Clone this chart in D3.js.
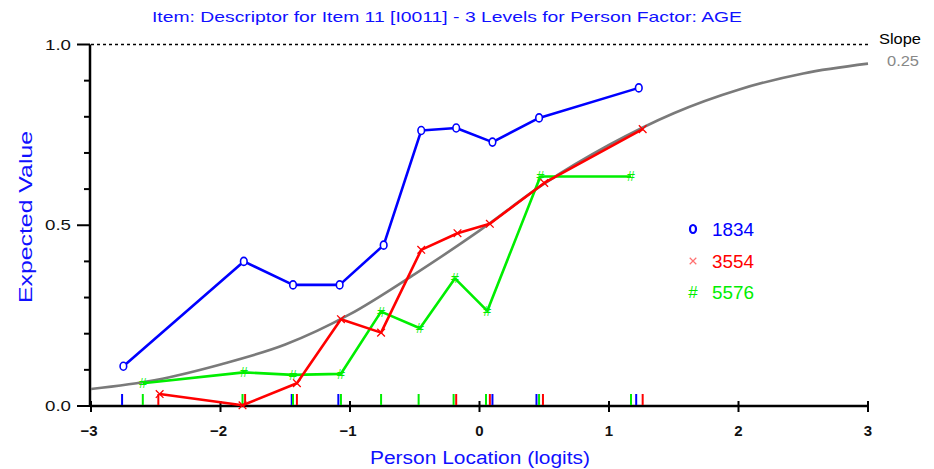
<!DOCTYPE html>
<html><head><meta charset="utf-8">
<script src="https://cdn.jsdelivr.net/npm/d3@7"></script>
<style>body{margin:0;background:#fff}svg{display:block}text{font-family:Arial,"Liberation Sans",sans-serif}</style>
</head><body><svg id="c" width="934" height="469"></svg>
<script>
const titleText = "Item: Descriptor for Item 11 [I0011] - 3 Levels for Person Factor: AGE";
const xTicks = [-3, -2, -1, 0, 1, 2, 3];
const yTicks = [0.0, 0.5, 1.0];
const yMinorTicks = [0.1, 0.2, 0.3, 0.4, 0.6, 0.7, 0.8, 0.9];
const seriesNames = ["1834", "3554", "5576"];
const seriesColors = ["#0000ff", "#ff0000", "#00ee00"];
const blueX = [-2.75, -1.82, -1.44, -1.08, -0.74, -0.45, -0.18, 0.10, 0.46, 1.23];
const blueY = [0.11, 0.40, 0.335, 0.335, 0.445, 0.762, 0.769, 0.73, 0.797, 0.88];
const redX = [-2.47, -1.83, -1.41, -1.07, -0.76, -0.45, -0.17, 0.08, 0.50, 1.26];
const redY = [0.033, 0.002, 0.063, 0.24, 0.203, 0.432, 0.478, 0.504, 0.617, 0.766];
const greenX = [-2.60, -1.82, -1.44, -1.07, -0.76, -0.46, -0.19, 0.06, 0.47, 1.17];
const greenY = [0.063, 0.093, 0.086, 0.089, 0.261, 0.215, 0.353, 0.263, 0.635, 0.635];
const blueRug = [-2.76, -1.45, -1.09, 0.10, 0.44, 1.21];
const greenRug = [-2.60, -1.83, -1.44, -1.07, -0.76, -0.47, -0.20, 0.05, 0.46, 1.17];
const redRug = [-2.48, -1.81, -1.41, -0.18, 0.08, 0.49, 1.26];
const curveX = [-3, -2.5, -2, -1.5, -1, -0.5, 0, 0.5, 1, 1.5, 2, 2.5, 3];
const curveY = [0.047, 0.072, 0.115, 0.17, 0.254, 0.365, 0.485, 0.615, 0.722, 0.81, 0.875, 0.92, 0.947];
const slopeLabel = "Slope";
const slopeValue = "0.25";

const svg = d3.select("#c");
const x = d3.scaleLinear().domain([-3, 3]).range([91, 868]);
const y = d3.scaleLinear().domain([0, 1]).range([406, 44.5]);
const blue = "#1010ff";

// title
svg.append("text").attr("x", 447).attr("y", 22).attr("text-anchor", "middle")
  .attr("fill", blue).attr("font-size", 15).attr("textLength", 590).attr("lengthAdjust", "spacingAndGlyphs")
  .text(titleText);

// dashed top line
svg.append("line").attr("x1", x(-3)).attr("x2", x(3)).attr("y1", y(1)).attr("y2", y(1))
  .attr("stroke", "#000").attr("stroke-width", 1.5).attr("stroke-dasharray", "3,3");

// slope labels
svg.append("text").attr("x", 879).attr("y", 44).attr("font-size", 14).attr("fill", "#000")
  .attr("textLength", 42).attr("lengthAdjust", "spacingAndGlyphs").text(slopeLabel);
svg.append("text").attr("x", 887).attr("y", 66).attr("font-size", 14).attr("fill", "#888")
  .attr("textLength", 32).attr("lengthAdjust", "spacingAndGlyphs").text(slopeValue);

// y axis
const yAxis = svg.append("g");
yAxis.append("line").attr("x1", 90).attr("x2", 90).attr("y1", y(1)).attr("y2", y(0)+1)
  .attr("stroke", "#000").attr("stroke-width", 2.5);
yAxis.selectAll(".ymaj").data(yTicks).join("line").attr("class", "ymaj")
  .attr("x1", 77).attr("x2", 90).attr("y1", d => y(d)).attr("y2", d => y(d))
  .attr("stroke", "#000").attr("stroke-width", 2);
yAxis.selectAll(".ymin").data(yMinorTicks).join("line").attr("class", "ymin")
  .attr("x1", 84).attr("x2", 90).attr("y1", d => y(d)).attr("y2", d => y(d))
  .attr("stroke", "#000").attr("stroke-width", 2);
yAxis.selectAll(".ylab").data(yTicks).join("text").attr("class", "ylab")
  .attr("x", 71).attr("y", d => y(d) + 5).attr("text-anchor", "end")
  .attr("font-size", 15).attr("fill", "#111")
  .attr("textLength", 26).attr("lengthAdjust", "spacingAndGlyphs")
  .text(d => d3.format(".1f")(d));

// x axis
const xAxis = svg.append("g");
xAxis.append("line").attr("x1", x(-3)).attr("x2", x(3)+1).attr("y1", y(0)).attr("y2", y(0))
  .attr("stroke", "#000").attr("stroke-width", 2.5);
xAxis.selectAll(".xt").data(xTicks).join("line").attr("class", "xt")
  .attr("x1", d => x(d)).attr("x2", d => x(d)).attr("y1", 401).attr("y2", 412)
  .attr("stroke", "#000").attr("stroke-width", 2);
xAxis.selectAll(".xl").data(xTicks).join("text").attr("class", "xl")
  .attr("x", d => x(d) + (d < 0 ? -2 : 0)).attr("y", 436).attr("text-anchor", "middle")
  .attr("font-size", 15).attr("fill", "#111").attr("font-weight", "bold")
  .text(d => d3.format("d")(d));

// axis titles
svg.append("text").attr("transform", "translate(32,217) rotate(-90)").attr("text-anchor", "middle")
  .attr("font-size", 19).attr("fill", blue).attr("textLength", 172).attr("lengthAdjust", "spacingAndGlyphs")
  .text("Expected Value");
svg.append("text").attr("x", 480).attr("y", 464).attr("text-anchor", "middle")
  .attr("font-size", 18).attr("fill", blue).attr("textLength", 220).attr("lengthAdjust", "spacingAndGlyphs")
  .text("Person Location (logits)");

// model curve
const curveData = curveX.map((v, i) => ({x: v, y: curveY[i]}));
svg.append("path").datum(curveData)
  .attr("d", d3.line().x(d => x(d.x)).y(d => y(d.y)).curve(d3.curveMonotoneX))
  .attr("fill", "none").attr("stroke", "#7a7a7a").attr("stroke-width", 2.6);

const series = [
  {name: seriesNames[0], color: seriesColors[0], data: blueX.map((v, i) => ({x: v, y: blueY[i]})), mark: "o", rug: blueRug},
  {name: seriesNames[1], color: seriesColors[1], data: redX.map((v, i) => ({x: v, y: redY[i]})), mark: "x", rug: redRug},
  {name: seriesNames[2], color: seriesColors[2], data: greenX.map((v, i) => ({x: v, y: greenY[i]})), mark: "#", rug: greenRug}
];

// rug ticks
[0, 2, 1].forEach(si => {
  const s = series[si];
  svg.append("g").selectAll("line").data(s.rug).join("line")
    .attr("x1", d => x(d)).attr("x2", d => x(d)).attr("y1", 394).attr("y2", 405)
    .attr("stroke", s.color).attr("stroke-width", 2);
});

const line = d3.line().x(d => x(d.x)).y(d => y(d.y));
function drawMarks(g, s, data) {
  if (s.mark === "o") {
    g.selectAll(".mk").data(data).join("ellipse").attr("class", "mk")
      .attr("cx", d => x(d.x)).attr("cy", d => y(d.y)).attr("rx", 3.3).attr("ry", 4)
      .attr("fill", "#fff").attr("stroke", s.color).attr("stroke-width", 1.6);
  } else if (s.mark === "x") {
    g.selectAll(".mk").data(data).join("path").attr("class", "mk")
      .attr("d", d3.symbol().type(d3.symbolTimes || d3.symbolX).size(40))
      .attr("transform", d => `translate(${x(d.x)},${y(d.y)})`)
      .attr("fill", "none").attr("stroke", s.color).attr("stroke-width", 1.3);
  } else {
    g.selectAll(".mk").data(data).join("text").attr("class", "mk")
      .attr("x", d => x(d.x)).attr("y", d => y(d.y) + 5).attr("text-anchor", "middle")
      .attr("font-size", 14).attr("fill", s.color).text("#");
  }
}

[2, 1, 0].forEach(si => {
  const s = series[si];
  const g = svg.append("g");
  g.append("path").attr("class", "ln").datum(s.data).attr("d", line)
    .attr("fill", "none").attr("stroke", s.color).attr("stroke-width", 2.6).attr("stroke-linejoin", "round");
  drawMarks(g, s, s.data);
});

// legend
const legendY = [229, 261, 292];
series.forEach((s, i) => {
  const g = svg.append("g");
  if (s.mark === "o") {
    g.append("ellipse").attr("cx", 693).attr("cy", legendY[i]).attr("rx", 3).attr("ry", 4)
      .attr("fill", "none").attr("stroke", s.color).attr("stroke-width", 2.2);
  } else if (s.mark === "x") {
    g.append("path").attr("d", d3.symbol().type(d3.symbolTimes || d3.symbolX).size(30))
      .attr("transform", `translate(693,${legendY[i]})`).attr("fill", "none")
      .attr("stroke", "#ff7070").attr("stroke-width", 1.2);
  } else {
    g.append("text").attr("x", 693).attr("y", legendY[i] + 6).attr("text-anchor", "middle")
      .attr("font-size", 17).attr("fill", s.color).text("#");
  }
  g.append("text").attr("x", 712).attr("y", legendY[i] + 7).attr("font-size", 18)
    .attr("fill", s.color).attr("textLength", 42).attr("lengthAdjust", "spacingAndGlyphs").text(s.name);
});
</script></body></html>
